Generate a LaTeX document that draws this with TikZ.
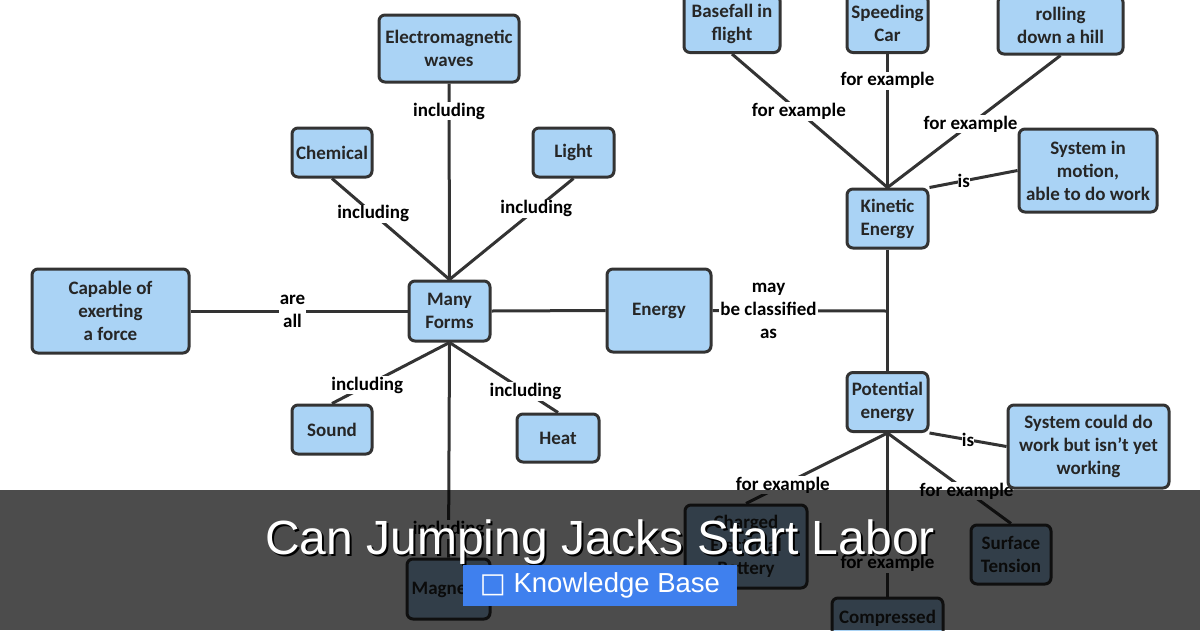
\documentclass[tikz,border=0pt]{standalone}
\usepackage{fontspec}
\setmainfont{Carlito}
\newfontfamily\headfont{Liberation Sans}
\newfontfamily\glyphfont{DejaVu Sans}
\usepackage{xcolor}
\usetikzlibrary{backgrounds}

\definecolor{boxfill}{HTML}{AAD3F5}
\definecolor{boxline}{HTML}{333333}
\definecolor{badgeblue}{HTML}{3F80EE}
\newcommand{\mapfont}{\fontsize{19pt}{23pt}\selectfont\bfseries}

\tikzset{
  concept/.style={draw=boxline, line width=3pt, fill=boxfill, rounded corners=6pt,
    align=center, font=\mapfont, text=black!85, inner sep=2pt},
  link/.style={draw=boxline, line width=3pt},
  linklabel/.style={fill=white, inner sep=1pt, font=\mapfont, align=center, text=black},
}

\begin{document}
\begin{tikzpicture}[x=1pt, y=-1pt]
  \useasboundingbox (0,0) rectangle (1200,630);
  \clip (0,0) rectangle (1200,630);

  % Forms of energy
  \node[concept, minimum width=140pt, minimum height=67pt] (em) at (449,48.5) {Electromagnetic\\waves};
  \node[concept, minimum width=80pt, minimum height=49pt] (chem) at (332,152.5) {Chemical};
  \node[concept, minimum width=81pt, minimum height=49pt] (light) at (573.5,152.5) {Light};
  \node[concept, minimum width=157pt, minimum height=84pt] (capable) at (110.5,311) {Capable of\\exerting\\a force};
  \node[concept, minimum width=81pt, minimum height=60pt] (many) at (449.5,311) {Many\\Forms};
  \node[concept, minimum width=80pt, minimum height=49pt] (sound) at (332,429.5) {Sound};
  \node[concept, minimum width=82pt, minimum height=48pt] (heat) at (558,438) {Heat};
  \node[concept, minimum width=83pt, minimum height=60pt] (magnet) at (448.5,589) {Magnetic};
  \node[concept, minimum width=104pt, minimum height=83pt] (energy) at (659,310.5) {Energy};

  % Kinetic side
  \node[concept, minimum width=81pt, minimum height=59pt] (kin) at (887.5,218.5) {Kinetic\\Energy};
  \node[concept, minimum width=96pt, minimum height=58pt] (base) at (732,23.5) {Basefall in\\flight};
  \node[concept, minimum width=81pt, minimum height=58pt] (speed) at (887.5,23.5) {Speeding\\Car};
  \node[concept, minimum width=125pt, minimum height=58pt] (roll) at (1060.5,25) {rolling\\down a hill};
  \node[concept, minimum width=138pt, minimum height=83pt] (motion) at (1088,170.5) {System in\\motion,\\able to do work};

  % Potential side
  \node[concept, minimum width=81pt, minimum height=59pt] (pot) at (887.5,402) {Potential\\energy};
  \node[concept, minimum width=161pt, minimum height=83pt] (could) at (1088.5,446.5) {System could do\\work but isn't yet\\working};
  \node[concept, minimum width=122pt, minimum height=83pt] (charged) at (746,546.5) {Charged\\Electrical\\Battery};
  \node[concept, minimum width=80pt, minimum height=59pt] (surface) at (1011,554.5) {Surface\\Tension};
  \node[concept, minimum width=111pt, minimum height=40pt] (compr) at (887.5,618) {Compressed};

  \coordinate (fork) at (887.5,311);

  \begin{scope}[on background layer]
    \fill[white] (0,0) rectangle (1200,630);
    \draw[link] (em.south) -- node[linklabel, pos=0.14] {including} (many.north);
    \draw[link] (chem.south) -- node[linklabel, pos=0.35] {including} (many.north);
    \draw[link] (light.south) -- node[linklabel, pos=0.3] {including} (many.north);
    \draw[link] (many.south) -- node[linklabel, pos=0.7] {including} (sound.north);
    \draw[link] (many.south) -- node[linklabel, pos=0.7] {including} (heat.north);
    \draw[link] (many.south) -- node[linklabel, pos=0.87] {including} (magnet.north);
    \draw[link] (capable.east) -- node[linklabel, pos=0.47] {are\\all} (many.west);
    \draw[link] (many.east) -- (energy.west);
    \draw[link] (energy.east) -- node[linklabel, pos=0.32] {may\\be classified\\as} (fork);
    \draw[link] (kin.south) -- (pot.north);
    % examples of kinetic energy
    \draw[link] (base.south) -- node[linklabel, pos=0.43] {for example} (kin.north);
    \draw[link] (speed.south) -- node[linklabel, pos=0.2] {for example} (kin.north);
    \draw[link] (roll.south) -- node[linklabel, pos=0.52] {for example} (kin.north);
    \draw[link] (kin.north east) -- node[linklabel, pos=0.39, inner sep=0pt] {is} (motion.west);
    % examples of potential energy
    \draw[link] (pot.south east) -- node[linklabel, pos=0.5, inner sep=0pt] {is} (could.west);
    \draw[link] (pot.south) -- node[linklabel, pos=0.74] {for example} (charged.north);
    \draw[link] (pot.south) -- node[linklabel, pos=0.8] {for example} (compr.north);
    \draw[link] (pot.south) -- node[linklabel, pos=0.64] {for example} (surface.north);
  \end{scope}

  % Title band
  \fill[black, opacity=0.7] (0,490) rectangle (1200,630);
  \node[font=\headfont\fontsize{48pt}{48pt}\selectfont, text=black, anchor=base] (titleshadow) at (602,556) {Can Jumping Jacks Start Labor};
  \node[font=\headfont\fontsize{48pt}{48pt}\selectfont, text=white, anchor=base] (title) at (600,554) {Can Jumping Jacks Start Labor};
  \node[fill=badgeblue, minimum width=274pt, minimum height=41pt, inner sep=0pt, text=white,
    font=\headfont\fontsize{27.5pt}{27.5pt}\selectfont] (badge) at (600,585.5) {{\glyphfont □}\ Knowledge Base};
\end{tikzpicture}
\end{document}
